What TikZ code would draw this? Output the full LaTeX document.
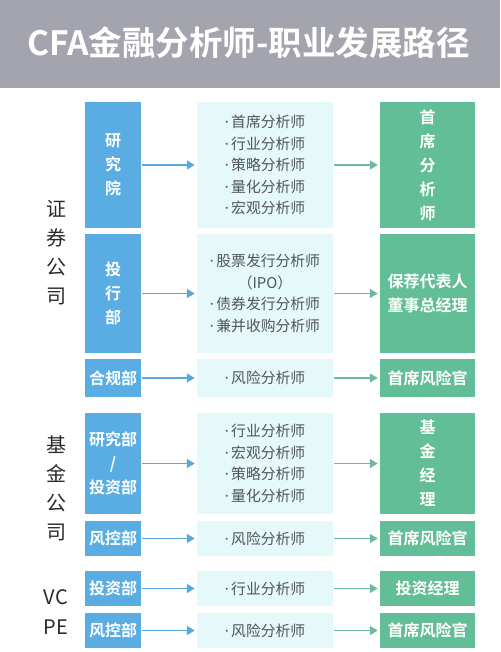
\documentclass[tikz,border=0pt]{standalone}
\usepackage{fontspec}
\setmainfont{Noto Sans CJK SC}[BoldFont={Noto Sans CJK SC Bold}]
\newfontfamily\latinf{Noto Sans}
\newcommand\dotb{{\latinf ·}\kern2.5pt}
\usetikzlibrary{arrows.meta}
\definecolor{hdr}{HTML}{A3A4AE}
\definecolor{myblue}{HTML}{5AADE3}
\definecolor{mygreen}{HTML}{62BE96}
\definecolor{mylight}{HTML}{E5F8FA}
\definecolor{barrowc}{HTML}{5BA8DD}
\definecolor{garrowc}{HTML}{6CBBA0}
\definecolor{midtext}{HTML}{50555B}
\definecolor{grptext}{HTML}{2A2A2A}
\begin{document}
\begin{tikzpicture}[x=1pt,y=-1pt,
  bluebox/.style={fill=myblue,text=white,font=\bfseries\fontsize{16}{24}\selectfont,minimum width=56pt,inner sep=0pt,align=center},
  midbox/.style={fill=mylight,text=midtext,font=\fontsize{14.8}{21.6}\selectfont,minimum width=136pt,inner sep=0pt,align=center},
  greenbox/.style={fill=mygreen,text=white,font=\bfseries\fontsize{16}{24}\selectfont,minimum width=95pt,inner sep=0pt,align=center},
  grp/.style={text=grptext,font=\fontsize{20}{29}\selectfont,inner sep=0pt,align=center},
  barrow/.style={draw=barrowc,line width=1.5pt,-{Triangle[length=8pt,width=9pt]},shorten <=1pt,shorten >=2pt},
  garrow/.style={draw=garrowc,line width=1.5pt,-{Triangle[length=8pt,width=9pt]},shorten <=1pt,shorten >=2pt}]
\useasboundingbox (0,0) rectangle (500,652);
\fill[hdr] (0,0) rectangle (500,88);
\node[text=white,font=\bfseries\fontsize{33.5}{36}\selectfont,inner sep=0pt] (title) at (248.5,43) {CFA金融分析师-职业发展路径};

% group labels
\node[grp] (g1) at (56,253) {证\\券\\公\\司};
\node[grp] (g2) at (56,488) {基\\金\\公\\司};
\node[grp,font=\fontsize{20}{30}\selectfont] (g3) at (56,612) {VC\\PE};

% row 1
\node[bluebox,minimum height=126pt] (b1) at (113,165) {研\\究\\院};
\node[midbox,minimum height=126pt] (m1) at (265,165) {\dotb 首席分析师\\\dotb 行业分析师\\\dotb 策略分析师\\\dotb 量化分析师\\\dotb 宏观分析师};
\node[greenbox,minimum height=126pt] (r1) at (427.5,165) {首\\席\\分\\析\\师};
% row 2
\node[bluebox,minimum height=119pt] (b2) at (113,293.5) {投\\行\\部};
\node[midbox,minimum height=119pt] (m2) at (265,293.5) {\dotb 股票发行分析师\\（IPO）\\\dotb 债券发行分析师\\\dotb 兼并收购分析师};
\node[greenbox,minimum height=119pt] (r2) at (427.5,293.5) {保荐代表人\\董事总经理};
% row 3
\node[bluebox,minimum height=38pt] (b3) at (113,378) {合规部};
\node[midbox,minimum height=38pt] (m3) at (265,378) {\dotb 风险分析师};
\node[greenbox,minimum height=38pt] (r3) at (427.5,378) {首席风险官};
% row 4
\node[bluebox,minimum height=101pt] (b4) at (113,463.5) {研究部\\/\\投资部};
\node[midbox,minimum height=101pt] (m4) at (265,463.5) {\dotb 行业分析师\\\dotb 宏观分析师\\\dotb 策略分析师\\\dotb 量化分析师};
\node[greenbox,minimum height=101pt] (r4) at (427.5,463.5) {基\\金\\经\\理};
% row 5
\node[bluebox,minimum height=35pt] (b5) at (113,538.5) {风控部};
\node[midbox,minimum height=35pt] (m5) at (265,538.5) {\dotb 风险分析师};
\node[greenbox,minimum height=35pt] (r5) at (427.5,538.5) {首席风险官};
% row 6
\node[bluebox,minimum height=35pt] (b6) at (113,588.5) {投资部};
\node[midbox,minimum height=35pt] (m6) at (265,588.5) {\dotb 行业分析师};
\node[greenbox,minimum height=35pt] (r6) at (427.5,588.5) {投资经理};
% row 7
\node[bluebox,minimum height=35pt] (b7) at (113,630.5) {风控部};
\node[midbox,minimum height=35pt] (m7) at (265,630.5) {\dotb 风险分析师};
\node[greenbox,minimum height=35pt] (r7) at (427.5,630.5) {首席风险官};

\foreach \i in {1,...,7} {
  \draw[barrow] (b\i.east) -- (m\i.west);
  \draw[garrow] (m\i.east) -- (r\i.west);
}
\end{tikzpicture}
\end{document}
